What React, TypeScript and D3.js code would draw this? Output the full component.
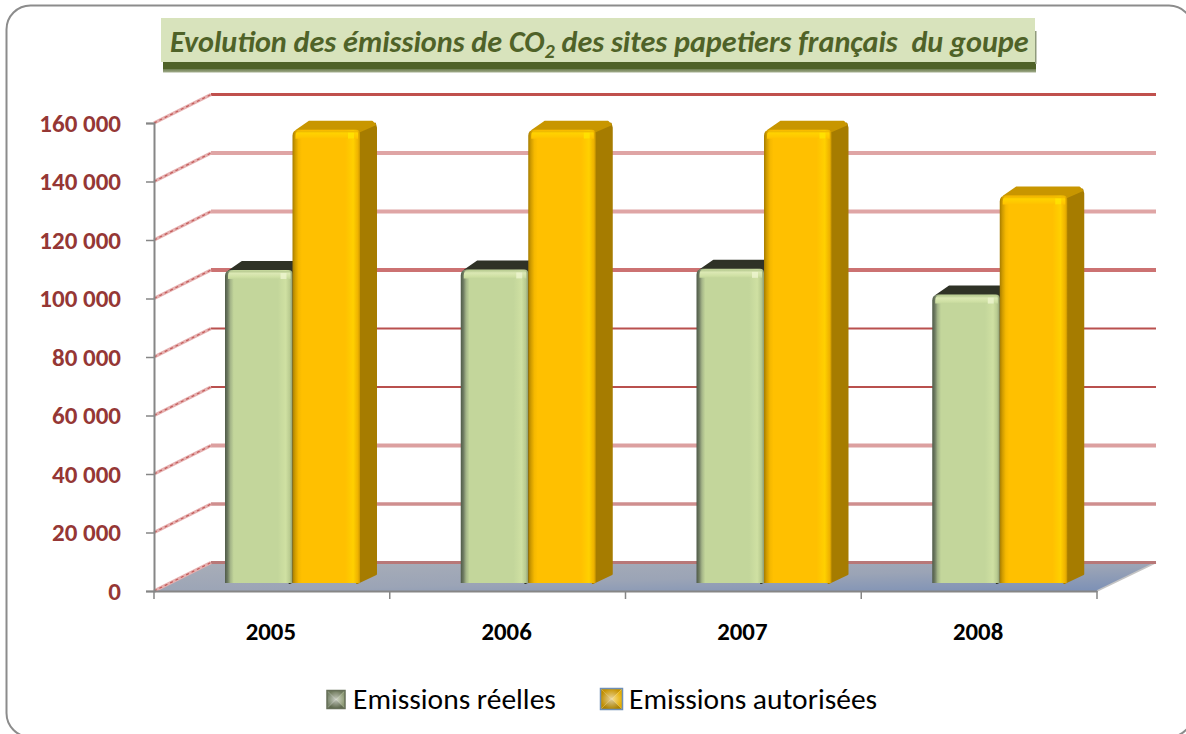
import * as d3 from 'd3';
import React, { useEffect, useRef } from 'react';

const years = ['2005', '2006', '2007', '2008'];
const seriesNames = ['Emissions réelles', 'Emissions autorisées'];
const reelles = [107000, 107200, 107400, 98600];
const autorisees = [155000, 155000, 155000, 132500];
const yTicks = [0, 20000, 40000, 60000, 80000, 100000, 120000, 140000, 160000];

const FONT = 'Calibri, Carlito, Lato, sans-serif';

export default () => {
    const ref = useRef<any>();

    useEffect(() => {
        const svg = d3.select<any, any>(ref.current);
        svg.selectAll('*').remove();

        const defs = svg.append('defs');

        function gradient(id: string, stops: [number, string][], horizontal: boolean, diag = false) {
            const g = defs.append('linearGradient')
                .attr('id', id)
                .attr('x1', 0)
                .attr('y1', 0)
                .attr('x2', horizontal || diag ? 1 : 0)
                .attr('y2', horizontal ? 0 : 1);
            stops.forEach((s) => {
                g.append('stop').attr('offset', s[0]).attr('stop-color', s[1]);
            });
        }

        gradient('greenFront', [
            [0, '#4f5a48'], [0.04, '#6f7c62'], [0.08, '#a4b588'], [0.13, '#c3d69b'],
            [0.78, '#c3d69b'], [0.9, '#cfe0a2'], [0.96, '#b9cb90'], [1, '#8e9c74'],
        ], true);
        gradient('orangeFront', [
            [0, '#a67c00'], [0.04, '#d09c00'], [0.09, '#f5b800'], [0.14, '#ffc000'],
            [0.78, '#ffc000'], [0.9, '#ffd000'], [0.97, '#eeb200'], [1, '#c89600'],
        ], true);
        gradient('greenTop', [[0, '#b6c98f'], [0.3, '#dbe8b4'], [0.75, '#cfe0a4'], [1, '#c3d69b']], false);
        gradient('orangeTop', [[0, '#e8ae00'], [0.3, '#ffd200'], [0.75, '#ffc800'], [1, '#ffc000']], false);
        gradient('floor', [[0, '#a9aeb8'], [0.55, '#9ba4b6'], [1, '#7a8fb6']], false, true);
        gradient('titleBand', [[0, '#4f6228'], [0.62, '#4f6228'], [0.72, '#76865a'], [1, '#a3ae8e']], false);

        const glow = defs.append('radialGradient').attr('id', 'swatchGlow');
        glow.append('stop').attr('offset', 0).attr('stop-color', '#fff').attr('stop-opacity', 0.6);
        glow.append('stop').attr('offset', 1).attr('stop-color', '#fff').attr('stop-opacity', 0);

        // outer frame, runs off the page on the right
        svg.append('rect')
            .attr('x', 6.5)
            .attr('y', 5.5)
            .attr('width', 1186.5)
            .attr('height', 731.5)
            .attr('rx', 24)
            .attr('fill', '#fff')
            .attr('stroke', '#8c8c8c')
            .attr('stroke-width', 2);

        // title
        svg.append('rect').attr('x', 163).attr('y', 62).attr('width', 873).attr('height', 10.5).attr('fill', 'url(#titleBand)');
        svg.append('rect').attr('x', 1035).attr('y', 31).attr('width', 1.5).attr('height', 33).attr('fill', '#8f9a7c');
        svg.append('rect').attr('x', 161).attr('y', 18).attr('width', 874).attr('height', 44).attr('fill', '#d8e3bc');
        const title = svg.append('text')
            .attr('x', 170)
            .attr('y', 52)
            .attr('font-family', FONT)
            .attr('font-size', 30.2)
            .attr('font-weight', 700)
            .attr('font-style', 'italic')
            .attr('fill', '#4f6228')
            .style('white-space', 'pre');
        title.append('tspan').text('Evolution des émissions de CO');
        title.append('tspan').attr('font-size', 20).attr('dy', 6).text('2');
        title.append('tspan').attr('dy', -6).text(' des sites papetiers français  du goupe');

        const x = d3.scaleBand().domain(years).range([154, 1097]);
        const y = d3.scaleLinear().domain([0, 160000]).range([591, 123]);
        const barX = d3.scaleBand().domain(seriesNames).range([71, 206]);

        const depthX = 57;
        const depthY = -28.5;
        const barOffsetY = -8;
        const barDepthX = 17;
        const barDepthY = -9;

        // floor
        svg.append('polygon')
            .attr('points', [
                [x.range()[0], y(0)],
                [x.range()[1], y(0)],
                [x.range()[1] + depthX + 2, y(0) + depthY],
                [x.range()[0] + depthX, y(0) + depthY],
            ].join(' '))
            .attr('fill', 'url(#floor)');
        svg.append('line')
            .attr('x1', x.range()[1])
            .attr('y1', y(0))
            .attr('x2', x.range()[1] + depthX + 2)
            .attr('y2', y(0) + depthY)
            .attr('stroke', '#c4c4c4')
            .attr('stroke-width', 1.5);

        // gridlines: back wall and the slanted part on the left wall
        const backStroke = d3.scaleOrdinal<number, string>()
            .domain(yTicks)
            .range(['#b87878', '#cf8f8f', '#dca0a0', '#b9504e', '#b9504e', '#cc7272', '#dfa5a5', '#dfa5a5', '#c0504d']);
        const backWidth = d3.scaleOrdinal<number, number>()
            .domain(yTicks)
            .range([3, 3.5, 4, 2, 2, 4, 4, 4, 3]);

        const grid = svg.append('g').attr('class', 'grid');
        grid.selectAll('.back')
            .data(yTicks)
            .join('line')
            .attr('class', 'back')
            .attr('x1', x.range()[0] + depthX)
            .attr('x2', x.range()[1] + depthX + 2)
            .attr('y1', (d) => y(d) + depthY)
            .attr('y2', (d) => y(d) + depthY)
            .attr('stroke', (d) => backStroke(d))
            .attr('stroke-width', (d) => backWidth(d));
        grid.selectAll('.slantPink')
            .data(yTicks)
            .join('line')
            .attr('class', 'slantPink')
            .attr('x1', x.range()[0])
            .attr('x2', x.range()[0] + depthX)
            .attr('y1', (d) => y(d))
            .attr('y2', (d) => y(d) + depthY)
            .attr('stroke', '#e6b0b0')
            .attr('stroke-width', 3.2);
        grid.selectAll('.slantRed')
            .data(yTicks)
            .join('line')
            .attr('class', 'slantRed')
            .attr('x1', x.range()[0])
            .attr('x2', x.range()[0] + depthX)
            .attr('y1', (d) => y(d))
            .attr('y2', (d) => y(d) + depthY)
            .attr('stroke', '#c25a58')
            .attr('stroke-width', 1.2)
            .attr('stroke-dasharray', '3 3');

        // axes
        const fr = d3.formatLocale({ decimal: ',', thousands: ' ', grouping: [3], currency: ['', ''] });
        const yAxis = svg.append('g')
            .attr('transform', `translate(${x.range()[0]},0)`)
            .call(d3.axisLeft(y).tickValues(yTicks).tickSize(8).tickPadding(25).tickFormat((d: any) => fr.format(',')(d)));
        yAxis.select('.domain').attr('stroke', '#868686').attr('stroke-width', 2);
        yAxis.selectAll('.tick line').attr('stroke', '#868686').attr('stroke-width', 1.5);
        yAxis.selectAll('text')
            .attr('font-family', FONT)
            .attr('font-size', 25)
            .attr('font-weight', 700)
            .attr('fill', '#953735');

        const xAxis = svg.append('g')
            .attr('transform', `translate(0,${y(0)})`)
            .call(d3.axisBottom(x).tickSize(0).tickPadding(31));
        xAxis.select('.domain').attr('stroke', '#868686').attr('stroke-width', 2);
        xAxis.selectAll('text')
            .attr('font-family', FONT)
            .attr('font-size', 24.8)
            .attr('font-weight', 700)
            .attr('fill', '#000')
            .attr('transform', 'translate(-1,0)');
        xAxis.selectAll('.edge')
            .data([...years.map((d) => x(d) as number), x.range()[1]])
            .join('line')
            .attr('class', 'edge')
            .attr('x1', (d) => d)
            .attr('x2', (d) => d)
            .attr('y1', 0)
            .attr('y2', 8)
            .attr('stroke', '#868686')
            .attr('stroke-width', 1.5);

        // bars, real emissions first so that the authorised ones overlap them
        function drawBars(values: number[], name: string, front: string, topFill: string, side: string, cap: string, spot: string) {
            const g = svg.append('g').attr('class', 'bars');
            const w = barX.bandwidth();
            const y0 = y(0) + barOffsetY;
            values.forEach((v, i) => {
                const x0 = (x(years[i]) as number) + (barX(name) as number);
                const x1 = x0 + w;
                const top = y(v) + barOffsetY;
                g.append('polygon')
                    .attr('points', [
                        [x1 - 1, top + 2],
                        [x1 + barDepthX - 2, top + barDepthY + 3],
                        [x1 + barDepthX - 1, top + barDepthY + 7],
                        [x1 + barDepthX - 1, y0 + barDepthY],
                        [x1 - 3, y0],
                    ].join(' '))
                    .attr('fill', side)
                    .attr('stroke', side)
                    .attr('stroke-width', 2)
                    .attr('stroke-linejoin', 'round');
                g.append('polygon')
                    .attr('points', [
                        [x0 + 4, top + 1],
                        [x0 + barDepthX, top + barDepthY + 1],
                        [x1 + barDepthX - 5, top + barDepthY + 1],
                        [x1 + barDepthX - 2, top + barDepthY + 4],
                        [x1 - 1, top + 2],
                    ].join(' '))
                    .attr('fill', cap)
                    .attr('stroke', cap)
                    .attr('stroke-width', 2)
                    .attr('stroke-linejoin', 'round');
                g.append('path')
                    .attr('d', `M${x0},${y0}V${top + 6}Q${x0},${top} ${x0 + 6},${top}H${x1 - 4}Q${x1},${top} ${x1},${top + 4}V${y0}Z`)
                    .attr('fill', front);
                g.append('path')
                    .attr('d', `M${x0 + 3},${top + 9}V${top + 6}Q${x0 + 3},${top + 1} ${x0 + 7},${top + 1}H${x1 - 5}Q${x1 - 2},${top + 1} ${x1 - 2},${top + 4}V${top + 9}Z`)
                    .attr('fill', topFill);
                g.append('rect')
                    .attr('x', x1 - 12)
                    .attr('y', top + 3)
                    .attr('width', 6)
                    .attr('height', 6)
                    .attr('fill', spot)
                    .attr('opacity', 0.8);
            });
        }
        drawBars(reelles, seriesNames[0], 'url(#greenFront)', 'url(#greenTop)', '#2f3226', '#2f3226', '#eef5d0');
        drawBars(autorisees, seriesNames[1], 'url(#orangeFront)', 'url(#orangeTop)', '#a67c00', '#c89600', '#ffe600');

        // legend
        function swatch(sx: number, sy: number, w: number, h: number, fills: string[], border: string) {
            const g = svg.append('g');
            const cx = sx + w / 2;
            const cy = sy + h / 2;
            const corners = [[sx, sy], [sx + w, sy], [sx + w, sy + h], [sx, sy + h]];
            corners.forEach((c, i) => {
                g.append('polygon')
                    .attr('points', [c, corners[(i + 1) % 4], [cx, cy]].join(' '))
                    .attr('fill', fills[i]);
            });
            g.append('rect')
                .attr('x', sx)
                .attr('y', sy)
                .attr('width', w)
                .attr('height', h)
                .attr('fill', 'url(#swatchGlow)');
            g.append('rect')
                .attr('x', sx)
                .attr('y', sy)
                .attr('width', w)
                .attr('height', h)
                .attr('fill', 'none')
                .attr('stroke', border)
                .attr('stroke-width', 1.5);
        }
        swatch(327, 690.5, 18, 18, ['#6f7a5c', '#8d9a74', '#5f6a4e', '#78846a'], '#666f58');
        swatch(600.5, 688.5, 22, 21, ['#c89400', '#e6ae00', '#ad8200', '#c08e00'], '#6f8fb5');

        const legendText = svg.append('g')
            .attr('font-family', FONT)
            .attr('font-size', 29.5)
            .attr('fill', '#000');
        legendText.append('text').attr('x', 353).attr('y', 709).text(seriesNames[0]);
        legendText.append('text').attr('x', 629).attr('y', 709).text(seriesNames[1]);
    }, []);

    return (
        <svg ref={ref} width={1186} height={734} style={{ position: 'absolute', left: 0, top: 0 }}></svg>
    );
};
